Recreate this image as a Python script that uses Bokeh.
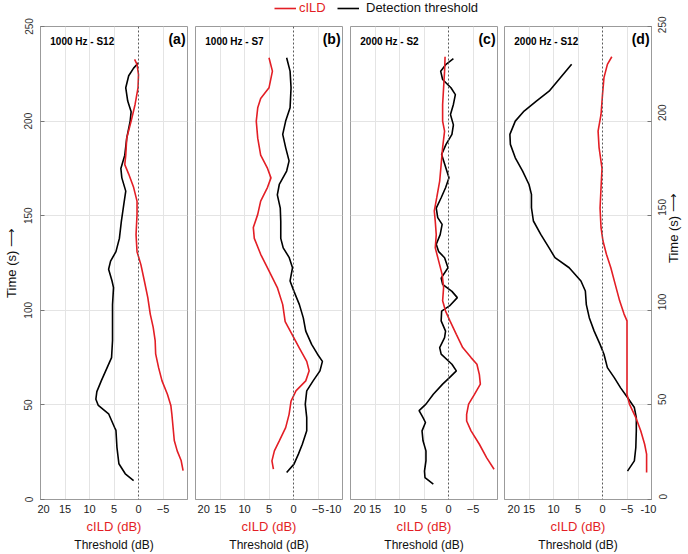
import math
from bokeh.plotting import figure
from bokeh.models import Range1d, LinearAxis, Grid, FixedTicker, Span, Label, Legend, LegendItem
from bokeh.layouts import row, column
from bokeh.core.properties import value
from bokeh.embed import file_html
from bokeh.resources import INLINE

# ---------------- data ----------------
# Panel (a) 1000 Hz - S12
a_thr_t = [230.8, 228, 224, 217.6, 210.6, 205, 200, 191, 182, 175, 170, 163, 156, 147, 138, 131, 126, 121.7, 115.5, 112,
           103, 94, 84, 75, 69.7, 62.7, 57, 53, 49.7, 45.3, 38.2, 36.5, 27.6, 18.9, 13.6, 10]
a_thr = [0, 1.0, 2.0, 2.6, 2.2, 1.5, 1.7, 2.4, 2.8, 3.6, 3.4, 2.6, 3.0, 3.5, 3.9, 4.6, 5.7, 6.1, 5.4, 5.1,
         5.3, 5.3, 5.3, 5.5, 6.4, 7.6, 8.5, 8.7, 8.2, 6.1, 4.9, 4.6, 4.4, 4.0, 2.7, 1.0]
a_cild_t = [232.6, 230, 224.6, 217.6, 208.8, 200, 191, 182, 177, 172, 165, 157.7, 150.7, 140, 131, 124, 115.5, 106.7, 98, 91,
            84, 77, 69.7, 62.7, 55.6, 49.7, 45.3, 31.2, 25.7, 20.6, 15.3]
a_cild = [0.8, 0.3, 0, 0.1, 0.7, 1.5, 2.4, 2.6, 2.8, 2.0, 1.0, 0.3, 0.3, 0.5, 0.3, -0.5, -1.2, -1.9, -2.4, -3.0,
          -3.4, -3.5, -4.1, -4.8, -5.9, -6.6, -6.8, -7.3, -7.9, -8.7, -9.1]

# Panel (b) 1000 Hz - S7
b_thr_t = [233.5, 226.4, 217.6, 207, 200, 193, 186, 179, 173.6, 166.5, 161, 154, 147, 138, 133, 128, 122.5, 115.5, 110, 103,
           96, 89, 82, 76.8, 73, 68, 62.7, 57.4, 50.4, 43.3, 36.3, 29.2, 24, 18.7, 14.3]
b_thr = [1.4, 0.7, 0.5, 0.7, 1.6, 2.2, 1.6, 0.9, 1.4, 2.9, 3.3, 2.7, 2.6, 2.6, 2.1, 0.9, 0.2, 0.7, -0.1, -1.2,
         -2.0, -2.5, -3.7, -4.9, -5.9, -5.4, -4.0, -2.7, -2.4, -2.7, -2.7, -1.8, -1.0, -0.1, 1.4]
b_cild_t = [233.5, 226.4, 217.6, 212, 207, 200, 191, 182, 175, 170, 165, 157.7, 150.7, 143.7, 138, 129.6, 120.8, 112, 103, 94,
            87.3, 80, 73, 68, 62.7, 57.4, 52, 45, 38, 31, 25.7, 20.4, 16]
b_cild = [5.0, 4.3, 5.0, 6.7, 7.3, 7.6, 7.3, 6.7, 5.3, 4.6, 5.3, 6.7, 7.3, 8.2, 8.0, 6.7, 5.0, 3.3, 2.2, 1.7,
          0.3, -1.2, -2.7, -3.2, -2.5, -0.5, 0.5, 0.9, 1.6, 2.9, 3.9, 4.4, 4.1]

# Panel (c) 2000 Hz - S2
c_thr_t = [233, 230, 226.4, 222, 217.6, 214, 208.8, 203.5, 198, 193, 187.7, 182.4, 175, 170, 164.8, 159.5, 154, 149, 145.4, 140,
           134.9, 131, 127.8, 122.5, 117, 113.7, 110, 106.7, 102.3, 99.6, 94.4, 89, 85.6, 80.3, 76.8, 71.5, 68, 64.4, 61, 55.6,
           50.4, 47, 43.3, 40.7, 36.3, 31, 25.7, 20.4, 15, 11.6, 8.1]
c_thr = [-1.0, 0.5, 1.6, 1.2, -0.5, -1.4, -1.0, -0.4, -1.0, -0.7, 0.5, 1.4, 0.5, -0.1, 0.6, 1.5, 2.5, 2.2, 1.3, 1.7,
         2.5, 2.0, 0.8, 0.1, 1.5, 1.2, -0.7, -1.8, -0.2, 1.4, 1.5, 0.6, 0.8, 1.8, 1.5, -0.7, -1.6, -0.2, 1.2, 3.1,
         4.6, 6.0, 5.2, 4.7, 5.4, 5.2, 4.6, 4.6, 4.9, 4.8, 3.1]
c_cild_t = [234, 226.4, 217.6, 208.8, 200, 194.7, 186, 177, 168.3, 159.5, 152.5, 147, 140, 133, 126, 119, 112, 105, 99.6, 94.4,
            87.3, 80.3, 75, 71.5, 66, 61, 55.6, 50.4, 45, 41.5, 36.3, 29.2, 22, 16]
c_cild = [0.7, 0.8, 1.0, 1.2, 1.2, 0.8, 1.2, 1.5, 1.8, 2.4, 2.9, 2.7, 2.5, 2.7, 2.0, 1.3, 1.0, 1.2, 0.6, -0.3,
          -1.6, -2.9, -4.6, -5.8, -6.3, -6.5, -5.3, -4.1, -3.7, -3.7, -4.6, -6.3, -7.8, -9.3]

# Panel (d) 2000 Hz - S12
d_thr_t = [230, 222.9, 215.8, 210.6, 205.3, 200, 193, 187.7, 180.6, 173.6, 166.5, 161.3, 154.2, 147.2, 140.1, 133, 127.8, 122.5, 115.5, 110.2,
           103, 96.1, 89, 82, 76.8, 69.7, 64.4, 59, 53.9, 48.6, 43.3, 36.3, 27.5, 20.4, 15]
d_thr = [6.3, 8.6, 10.9, 13.5, 16.0, 17.8, 18.9, 18.8, 17.8, 16.3, 15.0, 14.5, 14.5, 14.1, 12.6, 10.9, 9.7, 6.8, 4.4, 3.5,
         3.3, 2.7, 1.7, 0.5, -0.3, -1.0, -2.4, -3.7, -5.1, -6.5, -6.9, -6.9, -6.8, -6.5, -5.1]
d_cild_t = [234, 230, 223, 214, 203.5, 194.7, 186, 175, 164.8, 154, 143.7, 136.6, 129.6, 122.5, 113.7, 105, 98, 94.4, 85.6, 68,
            55.6, 50.4, 43.3, 36.3, 29.2, 24, 14.3]
d_cild = [-1.9, -1.0, -0.3, 0, 0.3, 0.9, 0.7, 0.1, 0.3, 0.5, 0.3, -0.1, -0.8, -1.7, -2.6, -3.5, -4.4, -5.0, -5.0, -5.0,
          -5.0, -5.5, -6.8, -7.8, -8.6, -9.0, -9.0]

panel_titles = ["1000 Hz - S12", "1000 Hz - S7", "2000 Hz - S2", "2000 Hz - S12"]
panel_tags = ["(a)", "(b)", "(c)", "(d)"]
legend_labels = ["cILD", "Detection threshold"]
x_ticks_short = [20, 15, 10, 5, 0, -5]
x_ticks_long = [20, 15, 10, 5, 0, -5, -10]
x_grid_ticks = [20, 15, 10, 5, -5, -10]
y_ticks = [0, 50, 100, 150, 200, 250]
y_grid_ticks = [50, 100, 150, 200]
x_label = "cILD (dB)"
x_label2 = "Threshold (dB)"
y_label = "Time (s) \u27f6"

# ---------------- style ----------------
FONT = "Liberation Sans"
RED = "#e31e25"
FRAME = "#9b9b9b"
GRIDC = "#e4e4e4"
NB = "\u00a0"
FRAME_W = 147
FRAME_H = 473
TOP = 10
BORDERS_L = [38, 4, 3, 3]
BORDERS_R = [4, 5, 4, 38]
LEG_H = 16


def make_panel(i, thr_t, thr, cild_t, cild):
    first, last = i == 0, i == 3
    p = figure(frame_width=FRAME_W, frame_height=FRAME_H,
               x_range=Range1d(20, -10), y_range=Range1d(0, 250),
               x_axis_type=None, y_axis_type=None, toolbar_location=None, output_backend="svg",
               min_border_top=TOP, min_border_bottom=0,
               min_border_left=BORDERS_L[i], min_border_right=BORDERS_R[i],
               outline_line_color=FRAME, outline_line_width=1,
               background_fill_color="white", border_fill_color="white")

    p.add_layout(Grid(dimension=0, ticker=FixedTicker(ticks=x_grid_ticks), grid_line_color=GRIDC, grid_line_width=1))
    p.add_layout(Grid(dimension=1, ticker=FixedTicker(ticks=y_grid_ticks), grid_line_color=GRIDC, grid_line_width=1))
    p.add_layout(Span(location=0, dimension="height", line_color="#5a5a5a", line_dash="2 2", line_width=1))

    p.line(thr, thr_t, line_color="black", line_width=1.6)
    p.line(cild, cild_t, line_color=RED, line_width=1.6)

    ticks = x_ticks_long if i in (1, 3) else x_ticks_short
    xa = LinearAxis(ticker=FixedTicker(ticks=ticks),
                    major_label_overrides={20: NB * 2 + "20", -10: "-10" + NB * 2},
                    axis_label=x_label, axis_label_text_color=RED, axis_label_text_font=FONT,
                    axis_label_text_font_size="13px", axis_label_text_font_style="normal",
                    axis_label_standoff=1,
                    major_label_text_font=FONT, major_label_text_font_size="11px",
                    major_label_text_color="#222222", major_label_standoff=3,
                    major_tick_in=0, major_tick_out=0,
                    major_tick_line_color=None, minor_tick_line_color=None, axis_line_color=FRAME)
    p.add_layout(xa, "below")
    xa2 = LinearAxis(ticker=FixedTicker(ticks=[]), axis_label=x_label2,
                     axis_label_text_color="#111111", axis_label_text_font=FONT,
                     axis_label_text_font_size="12px", axis_label_text_font_style="normal",
                     axis_label_standoff=1, major_label_standoff=0,
                     major_tick_in=0, major_tick_out=0,
                     axis_line_color=None, major_tick_line_color=None, minor_tick_line_color=None)
    p.add_layout(xa2, "below")

    if first or last:
        ya = LinearAxis(ticker=FixedTicker(ticks=y_ticks), axis_label=y_label,
                        axis_label_text_font=FONT, axis_label_text_font_size="13px",
                        axis_label_text_font_style="normal", axis_label_text_color="#111111",
                        major_label_text_font=FONT,
                        major_label_text_font_size="10px", major_label_text_color="#333333",
                        major_tick_in=4, major_tick_out=0, major_tick_line_color="#777777",
                        minor_tick_line_color=None, axis_line_color=FRAME)
        if first:
            ya.major_label_orientation = "vertical"
            ya.major_label_standoff = 8
            ya.axis_label_standoff = 3
        else:
            ya.major_label_orientation = math.pi / 2
            ya.major_label_standoff = 11
            ya.axis_label_standoff = 0
            if "axis_label_orientation" in ya.properties():
                ya.axis_label_orientation = math.pi / 2
        p.add_layout(ya, "left" if first else "right")

    p.add_layout(Label(x=18, y=242, text=panel_titles[i], text_font=FONT, text_font_style="bold",
                       text_font_size="10px", text_baseline="middle", text_align="left", text_color="black"))
    p.add_layout(Label(x=-9.6, y=243.3, text=panel_tags[i], text_font=FONT, text_font_style="bold",
                       text_font_size="14px", text_baseline="middle", text_align="right", text_color="black"))
    return p


pa = make_panel(0, a_thr_t, a_thr, a_cild_t, a_cild)
pb = make_panel(1, b_thr_t, b_thr, b_cild_t, b_cild)
pc = make_panel(2, c_thr_t, c_thr, c_cild_t, c_cild)
pd = make_panel(3, d_thr_t, d_thr, d_cild_t, d_cild)

total_w = sum(BORDERS_L) + sum(BORDERS_R) + 4 * FRAME_W

# legend strip above the panels (proxy lines lie outside the visible range)
lf = figure(width=total_w, height=LEG_H, x_range=Range1d(0, 1), y_range=Range1d(0, 1),
            x_axis_type=None, y_axis_type=None, toolbar_location=None, output_backend="svg",
            min_border=0, outline_line_color=None, background_fill_color="white", border_fill_color="white")
r_red = lf.line([5, 6], [5, 6], line_color=RED, line_width=1.6)
r_blk = lf.line([5, 6], [5, 6], line_color="black", line_width=1.6)
common = dict(orientation="horizontal", padding=0, margin=0, border_line_color=None,
              background_fill_alpha=0, label_text_font=FONT, label_text_font_size="13px",
              glyph_height=14, label_height=14, label_width=10, glyph_width=22)
lf.add_layout(Legend(items=[LegendItem(label=value(legend_labels[0]), renderers=[r_red])],
                     location=(274, 1), label_standoff=3, label_text_color=RED, **common))
lf.add_layout(Legend(items=[LegendItem(label=value(legend_labels[1]), renderers=[r_blk])],
                     location=(337, 1), label_standoff=7, label_text_color="#111111", **common))

layout = column(lf, row(pa, pb, pc, pd))
open("out.html", "w").write(file_html(layout, INLINE))
